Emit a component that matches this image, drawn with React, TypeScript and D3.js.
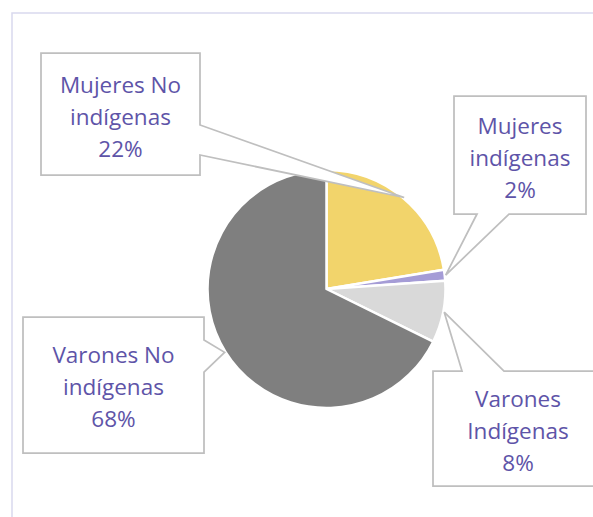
import React from "react";
import * as d3 from "d3";

const categories = ["Mujeres No indígenas", "Mujeres indígenas", "Varones Indígenas", "Varones No indígenas"];
const labelLines = [["Mujeres No", "indígenas"], ["Mujeres", "indígenas"], ["Varones", "Indígenas"], ["Varones No", "indígenas"]];
const values = [22.4, 1.5, 8.4, 67.7];
const colors = ["#f2d46b", "#a59cd6", "#d9d9d9", "#7f7f7f"];

// callout layout (label boxes)
const boxes = [
  { x0: 41, y0: 53, x1: 200, y1: 175, side: "right", a: 125, b: 155, base: 93 },
  { x0: 454, y0: 96, x1: 586, y1: 214, side: "bottom", a: 477, b: 509, base: 134 },
  { x0: 433, y0: 371, x1: 603, y1: 486, side: "top", a: 462, b: 504, base: 407 },
  { x0: 23, y0: 317, x1: 204, y1: 453, side: "right", a: 340, b: 372, base: 363 },
];

const W = 593, H = 517;
const cx = 326.5, cy = 289, R = 119;

function calloutPath(bx: any, tip: [number, number]) {
  const { x0, y0, x1, y1, side, a, b } = bx;
  const p: [number, number][] = [[x0, y0]];
  if (side === "top") p.push([a, y0], tip, [b, y0]);
  p.push([x1, y0]);
  if (side === "right") p.push([x1, a], tip, [x1, b]);
  p.push([x1, y1]);
  if (side === "bottom") p.push([b, y1], tip, [a, y1]);
  p.push([x0, y1]);
  return "M" + p.map((q) => q.join(",")).join("L") + "Z";
}

export default function App() {
  const pie = d3.pie<number>().sort(null).value((d) => d)(values);
  const arc = d3.arc<any>().innerRadius(0).outerRadius(R);
  const tipArc = d3.arc<any>().innerRadius(R + 1).outerRadius(R + 1);
  const lh = 32;
  return (
    <svg width={W} height={H} style={{ position: "absolute", left: 0, top: 0 }} fontFamily="'Open Sans', sans-serif">
      <rect x={0} y={0} width={W} height={H} fill="#ffffff" />
      <rect x={12} y={13} width={620} height={540} fill="none" stroke="#d9d9ee" strokeWidth={1.5} />
      <g transform={`translate(${cx},${cy})`}>
        {pie.map((s, i) => (
          <path key={i} d={arc(s) as string} fill={colors[i]} stroke="#ffffff" strokeWidth={2.5} strokeLinejoin="round" />
        ))}
      </g>
      {pie.map((s, i) => {
        const c = tipArc.centroid(s);
        const tip: [number, number] = [cx + c[0], cy + c[1]];
        const bx = boxes[i];
        const mx = (bx.x0 + Math.min(bx.x1, W + 0)) / 2;
        const tx = i === 2 ? 518 : (bx.x0 + bx.x1) / 2;
        const lines = [...labelLines[i], Math.round(values[i]) + "%"];
        return (
          <g key={categories[i]}>
            <path d={calloutPath(bx, tip)} fill="#ffffff" stroke="#bfbfbf" strokeWidth={1.75} strokeLinejoin="miter" />
            {lines.map((t, j) => (
              <text key={j} x={tx} y={bx.base + j * lh} textAnchor="middle" fontSize={22.5} fill="#5e54a8">
                {t}
              </text>
            ))}
          </g>
        );
      })}
    </svg>
  );
}
